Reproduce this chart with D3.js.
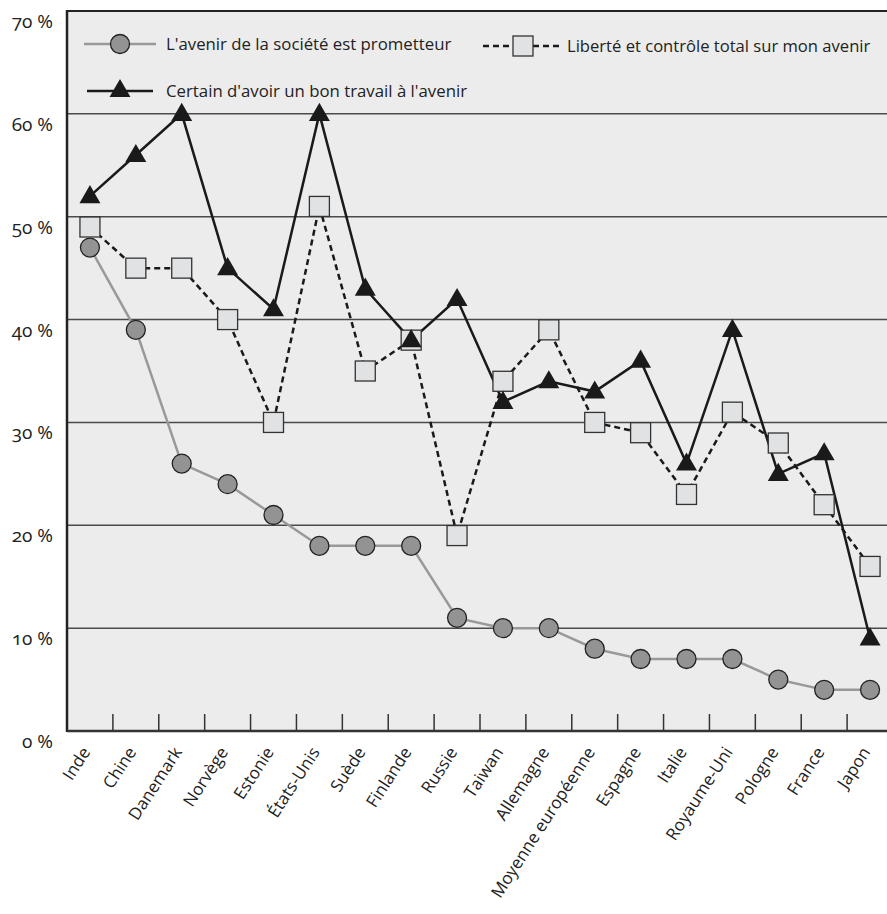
<!DOCTYPE html>
<html><head><meta charset="utf-8">
<script src="https://cdn.jsdelivr.net/npm/d3@7"></script>
<style>
body{margin:0;background:#fff;}
text{font-family:"Open Sans",sans-serif;fill:#222;}
</style></head><body>
<svg id="c" width="887" height="914"></svg>
<script>
const categories = ["Inde","Chine","Danemark","Norvège","Estonie","États-Unis","Suède","Finlande","Russie","Taiwan","Allemagne","Moyenne européenne","Espagne","Italie","Royaume-Uni","Pologne","France","Japon"];
const societe = [47,39,26,24,21,18,18,18,11,10,10,8,7,7,7,5,4,4];
const liberte = [49,45,45,40,30,51,35,38,19,34,39,30,29,23,31,28,22,16];
const travail = [52,56,60,45,41,60,43,38,42,32,34,33,36,26,39,25,27,9];
const yTicks = [0,10,20,30,40,50,60,70];
const seriesNames = ["L'avenir de la société est prometteur","Liberté et contrôle total sur mon avenir","Certain d'avoir un bon travail à l'avenir"];

const svg = d3.select("#c");
const L = 67, R = 893, T = 11, B = 731;
const x = d3.scaleBand().domain(categories).range([L, R]);
const y = d3.scaleLinear().domain([0,70]).range([B, T]);
const cx = d => x(d) + x.bandwidth()/2;

svg.append("rect").attr("x",L).attr("y",T).attr("width",887-L).attr("height",B-T).attr("fill","#ececec");

// gridlines
svg.append("g").selectAll("line").data(yTicks.filter(v=>v>0 && v<70)).join("line")
  .attr("x1",L).attr("x2",887).attr("y1",d=>y(d)).attr("y2",d=>y(d))
  .attr("stroke","#4a4a4a").attr("stroke-width",1.5);
// top border
svg.append("line").attr("x1",L).attr("x2",887).attr("y1",y(70)).attr("y2",y(70)).attr("stroke","#222").attr("stroke-width",2);

// y labels
svg.append("g").selectAll("text").data(yTicks).join("text")
  .attr("x",53).attr("y",d=>y(d)+17).attr("text-anchor","end")
  .style("font-size","19px").style("font-variant-numeric","oldstyle-nums")
  .text(d=>d+" %");

// x ticks (band boundaries)
svg.append("g").selectAll("line").data(categories.slice(1)).join("line")
  .attr("x1",d=>x(d)).attr("x2",d=>x(d)).attr("y1",B-17).attr("y2",B)
  .attr("stroke","#333").attr("stroke-width",1.5);

// axes lines
svg.append("line").attr("x1",L).attr("x2",L).attr("y1",T-1).attr("y2",B+1).attr("stroke","#222").attr("stroke-width",2.5);
svg.append("line").attr("x1",L).attr("x2",887).attr("y1",B).attr("y2",B).attr("stroke","#333").attr("stroke-width",2.5);

// x labels
svg.append("g").selectAll("text").data(categories).join("text")
  .attr("transform",d=>`translate(${cx(d)+1},${B+21}) rotate(-57)`)
  .attr("text-anchor","end")
  .style("font-size","17px").text(d=>d);

const line = d3.line().x((d,i)=>cx(categories[i])).y(d=>y(d));

// series lines
svg.append("path").datum(societe).attr("d",line).attr("fill","none").attr("stroke","#999").attr("stroke-width",2.5);
svg.append("path").datum(liberte).attr("d",line).attr("fill","none").attr("stroke","#1a1a1a").attr("stroke-width",2.5).attr("stroke-dasharray","6,4");
svg.append("path").datum(travail).attr("d",line).attr("fill","none").attr("stroke","#1a1a1a").attr("stroke-width",2.5);

const tri = d3.symbol().type(d3.symbolTriangle).size(190);

// markers
svg.append("g").selectAll("circle").data(societe).join("circle")
  .attr("cx",(d,i)=>cx(categories[i])).attr("cy",d=>y(d)).attr("r",9.5)
  .attr("fill","#939393").attr("stroke","#222").attr("stroke-width",1.3);
svg.append("g").selectAll("rect").data(liberte).join("rect")
  .attr("x",(d,i)=>cx(categories[i])-10).attr("y",d=>y(d)-10).attr("width",20).attr("height",20)
  .attr("fill","#e1e2e3").attr("stroke","#333").attr("stroke-width",1.3);
svg.append("g").selectAll("path").data(travail).join("path")
  .attr("transform",(d,i)=>`translate(${cx(categories[i])},${y(d)+1})`)
  .attr("d",tri).attr("fill","#1a1a1a");

// legend
const lg = svg.append("g");
lg.append("line").attr("x1",84).attr("x2",156).attr("y1",44).attr("y2",44).attr("stroke","#999").attr("stroke-width",2.5);
lg.append("circle").attr("cx",120).attr("cy",44).attr("r",9.5).attr("fill","#939393").attr("stroke","#222").attr("stroke-width",1.3);
lg.append("text").attr("x",166).attr("y",50).style("font-size","16.8px").text(seriesNames[0]);

lg.append("line").attr("x1",483).attr("x2",563).attr("y1",46).attr("y2",46).attr("stroke","#1a1a1a").attr("stroke-width",2.5).attr("stroke-dasharray","6,4");
lg.append("rect").attr("x",513).attr("y",36).attr("width",20).attr("height",20).attr("fill","#e1e2e3").attr("stroke","#333").attr("stroke-width",1.3);
lg.append("text").attr("x",567).attr("y",52).style("font-size","16.6px").text(seriesNames[1]);

lg.append("line").attr("x1",87).attr("x2",153).attr("y1",91).attr("y2",91).attr("stroke","#1a1a1a").attr("stroke-width",2.5);
lg.append("path").attr("transform","translate(120,91)").attr("d",tri).attr("fill","#1a1a1a");
lg.append("text").attr("x",166).attr("y",97).style("font-size","16.8px").text(seriesNames[2]);
</script></body></html>
